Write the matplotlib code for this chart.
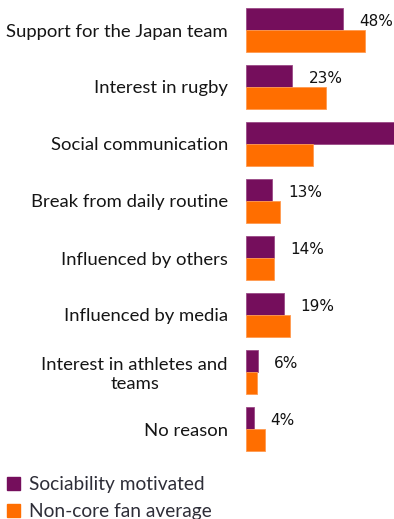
import matplotlib
matplotlib.use("Agg")
import matplotlib.pyplot as plt
from matplotlib.patches import Patch
import numpy as np

categories = ["Support for the Japan team", "Interest in rugby", "Social communication",
              "Break from daily routine", "Influenced by others", "Influenced by media",
              "Interest in athletes and\nteams", "No reason"]
sociability = [48, 23, 75, 13, 14, 19, 6, 4]
noncore = [58.9, 39.6, 33.2, 16.8, 13.7, 21.9, 5.6, 9.6]
series_names = ["Sociability motivated", "Non-core fan average"]

PURPLE = "#750E5C"
ORANGE = "#FF6E00"

fig = plt.figure(figsize=(3.94, 5.19), dpi=100)
ax = fig.add_axes([246/394, (519-457.5)/519, 148/394, 456/519])

y = np.arange(len(categories))
h = 22/57
ax.barh(y - h/2, sociability, height=h, color=PURPLE, edgecolor="#9a4a86", linewidth=0.6)
ax.barh(y + h/2, noncore, height=h, color=ORANGE, edgecolor="#ff9a50", linewidth=0.6)

xmax = 73.3
ax.set_xlim(0, xmax)
ax.set_ylim(len(categories) - 0.5, -0.5)

for yi, v in zip(y, sociability):
    if v < xmax - 5:
        ax.annotate(f"{v:.0f}%", xy=(v, yi - h/2), xytext=(11.5, -1.5), textcoords="offset points",
                    ha="left", va="center", fontsize=11, color="#111111", family="DejaVu Sans")

ax.set_yticks(y)
labels = ax.set_yticklabels(categories, fontsize=13.3, family="Lato", color="#151515")
for t in labels:
    t.set_multialignment("center")
ax.tick_params(axis="y", length=0, pad=13)
ax.set_xticks([])
for s in ax.spines.values():
    s.set_visible(False)

handles = [Patch(facecolor=PURPLE, edgecolor=PURPLE), Patch(facecolor=ORANGE, edgecolor=ORANGE)]
leg = fig.legend(handles, series_names, loc="lower left", bbox_to_anchor=(0.0, -0.015),
                 frameon=False, handlelength=0.68, handleheight=0.68,
                 handletextpad=0.47, labelspacing=0.5, borderpad=0.1, borderaxespad=0.25,
                 prop={"family": "Lato", "size": 13.8})
for t in leg.get_texts():
    t.set_color("#2E2E38")

fig.savefig("out.png", dpi=100)
